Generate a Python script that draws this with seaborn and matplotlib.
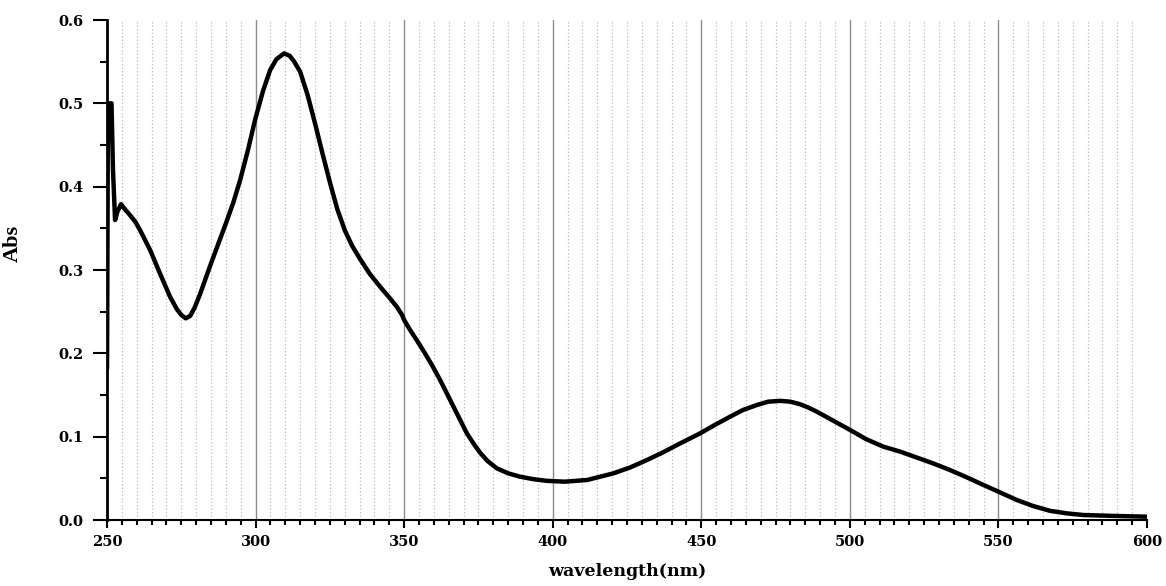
# ------------------------------
# Libraries
# ------------------------------
import numpy as np
import pandas as pd
import matplotlib
matplotlib.use('Agg')
import matplotlib.pyplot as plt
from matplotlib.ticker import MultipleLocator
import seaborn as sns

# ------------------------------
# Data
# ------------------------------
wavelength = [250.0, 250.3, 251.5, 252.0, 252.7, 253.5, 254.7, 256.0, 257.7, 259.5,
              261.1, 264.5, 267.8, 271.2, 273.5, 275.0, 276.5, 278.0, 279.5, 281.3,
              283.0, 285.0, 287.5, 290.0, 292.5, 294.8, 297.5, 299.8, 302.5, 304.9,
              307.0, 309.6, 311.5, 313.0, 315.0, 317.5, 320.0, 322.5, 325.1, 327.5,
              330.1, 332.5, 335.2, 338.5, 341.9, 345.0, 347.5, 349.3, 350.0, 352.0,
              354.2, 356.5, 359.5, 362.1, 366.6, 371.1, 373.5, 375.5, 378.0, 381.2,
              385.0, 389.0, 393.5, 398.0, 404.0, 411.5, 416.0, 420.4, 426.0, 431.7,
              437.0, 442.9, 449.6, 455.0, 459.7, 464.0, 468.7, 472.5, 476.5, 480.0,
              483.2, 486.0, 488.9, 494.5, 500.1, 505.5, 511.3, 517.0, 522.5, 528.0,
              533.7, 539.5, 545.0, 550.0, 556.2, 561.5, 567.4, 573.0, 578.6, 588.0,
              600.0]
absorbance = [0.182, 0.500, 0.500, 0.420, 0.360, 0.370, 0.379, 0.373, 0.366, 0.358,
              0.348, 0.324, 0.296, 0.268, 0.253, 0.246, 0.242, 0.245, 0.255, 0.271,
              0.288, 0.308, 0.332, 0.356, 0.381, 0.408, 0.445, 0.480, 0.515, 0.540,
              0.553, 0.560, 0.557, 0.550, 0.538, 0.510, 0.476, 0.440, 0.404, 0.373,
              0.347, 0.329, 0.313, 0.295, 0.280, 0.267, 0.256, 0.246, 0.240, 0.228,
              0.216, 0.203, 0.185, 0.168, 0.136, 0.104, 0.091, 0.081, 0.071, 0.062,
              0.056, 0.052, 0.049, 0.047, 0.046, 0.048, 0.052, 0.056, 0.063, 0.072,
              0.081, 0.092, 0.104, 0.115, 0.124, 0.132, 0.138, 0.142, 0.143, 0.142,
              0.139, 0.135, 0.130, 0.119, 0.108, 0.097, 0.088, 0.082, 0.075, 0.068,
              0.060, 0.051, 0.042, 0.034, 0.024, 0.017, 0.011, 0.008, 0.006, 0.005,
              0.004]

x_ticks = [250, 300, 350, 400, 450, 500, 550, 600]
y_ticks = [0.0, 0.1, 0.2, 0.3, 0.4, 0.5, 0.6]

df = pd.DataFrame({'wavelength': wavelength, 'Abs': absorbance})

# ------------------------------
# Figure
# ------------------------------
sns.set_style('white')
plt.rcParams['font.family'] = ['DejaVu Serif']
plt.rcParams['text.color'] = 'black'
plt.rcParams['axes.labelcolor'] = 'black'
plt.rcParams['xtick.color'] = 'black'
plt.rcParams['ytick.color'] = 'black'

fig = plt.figure(figsize=(11.66, 5.86), dpi=100)
ax = fig.add_axes([0.0918, 0.1126, 0.8919, 0.8532])

sns.lineplot(data=df, x='wavelength', y='Abs', ax=ax, color='black',
             linewidth=3.2, estimator=None, sort=False)

ax.set_xlim(250, 600)
ax.set_ylim(0, 0.6)
ax.set_xticks(x_ticks)
ax.set_yticks(y_ticks)
ax.xaxis.set_minor_locator(MultipleLocator(5))
ax.yaxis.set_minor_locator(MultipleLocator(0.05))
ax.set_xticklabels([str(v) for v in x_ticks], fontweight='bold', fontsize=10.5)
ax.set_yticklabels(['%.1f' % v for v in y_ticks], fontweight='bold', fontsize=10.5)

# vertical grid only: solid major lines, dotted minor lines
ax.grid(False)
ax.xaxis.grid(True, which='major', color='#8c8c8c', linewidth=1.0, linestyle='-')
ax.xaxis.grid(True, which='minor', color='#c4c4c4', linewidth=0.9, linestyle=(0, (1.2, 1.6)))
ax.set_axisbelow(True)
major_lines = ax.xaxis.get_gridlines()
major_lines[0].set_visible(False)
major_lines[-1].set_visible(False)

# spines and ticks
for side in ['top', 'right']:
    ax.spines[side].set_visible(False)
ax.spines['left'].set_linewidth(2.0)
ax.spines['bottom'].set_linewidth(1.5)
ax.spines['left'].set_color('black')
ax.spines['bottom'].set_color('black')
ax.tick_params(axis='y', which='major', direction='out', length=10, width=1.5, pad=7, left=True)
ax.tick_params(axis='y', which='minor', direction='out', length=5, width=1.5, left=True)
ax.tick_params(axis='x', which='major', direction='out', length=6, width=1.5, pad=5, bottom=True)
ax.tick_params(axis='x', which='minor', direction='out', length=3.5, width=1.5, bottom=True)

ax.set_xlabel('wavelength(nm)', fontweight='bold', fontsize=12.5, labelpad=10)
ax.set_ylabel('Abs', fontweight='bold', fontsize=16, family='Liberation Serif')
ax.yaxis.set_label_coords(-0.081, 0.554)

fig.savefig('out.png', dpi=100)
